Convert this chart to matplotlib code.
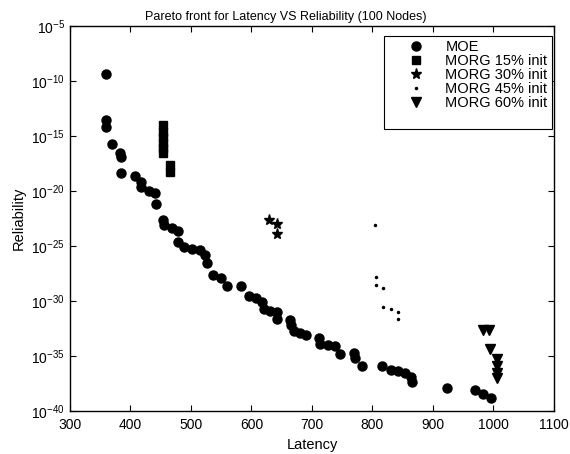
import matplotlib
matplotlib.use("Agg")
import matplotlib.pyplot as plt
import numpy as np

plt.rcParams['font.family'] = ['Liberation Sans', 'DejaVu Sans']
plt.rcParams['font.size'] = 10

# data (reliability given as log10 exponent)
moe_lat = [359, 359, 359, 370, 382, 384, 384, 408, 418, 418, 431, 441, 443, 453,
           455, 469, 479, 479, 489, 502, 515, 524, 527, 536, 550, 560, 583, 596,
           608, 618, 620, 631, 642, 642, 664, 666, 671, 680, 690, 711, 713, 727,
           738, 747, 770, 771, 783, 816, 830, 842, 853, 864, 866, 923, 970, 983, 996]
moe_exp = [-9.4, -13.5, -14.2, -15.7, -16.5, -16.9, -18.4, -18.6, -19.2, -19.6,
           -20.0, -20.2, -21.2, -22.6, -23.1, -23.4, -23.6, -24.6, -25.1, -25.3,
           -25.4, -25.8, -26.5, -27.6, -27.9, -28.6, -28.6, -29.5, -29.7, -30.1,
           -30.7, -30.9, -31.0, -31.6, -31.7, -32.2, -32.7, -32.9, -33.1, -33.4,
           -33.9, -34.0, -34.05, -34.8, -34.7, -35.2, -35.9, -35.95, -36.25, -36.4,
           -36.55, -36.9, -37.4, -37.9, -38.1, -38.45, -38.8]

m15_lat = [454, 454, 454, 454, 454, 454, 466, 466]
m15_exp = [-14.0, -14.65, -15.1, -15.6, -16.1, -16.55, -17.65, -18.25]

m30_lat = [629, 642, 642]
m30_exp = [-22.6, -23.0, -23.9]

m45_lat = [805, 806, 806, 818, 818, 830, 842, 842]
m45_exp = [-23.05, -27.85, -28.5, -28.8, -30.55, -30.75, -30.97, -31.6]

m60_lat = [983, 993, 994, 1006, 1006, 1006, 1006]
m60_exp = [-32.6, -32.6, -34.4, -35.3, -35.9, -36.5, -37.0]

fig = plt.figure(figsize=(5.7, 4.54), dpi=100)
ax = fig.add_axes([0.1228, 0.0947, 0.849, 0.848])

ax.semilogy(moe_lat, np.power(10.0, moe_exp), 'ko', ms=6.5, mec='k', label='MOE')
ax.semilogy(m15_lat, np.power(10.0, m15_exp), 'ks', ms=6, mec='k', label='MORG 15% init')
ax.semilogy(m30_lat, np.power(10.0, m30_exp), 'k*', ms=8, mec='k', label='MORG 30% init')
ax.semilogy(m45_lat, np.power(10.0, m45_exp), 'k.', ms=3, mec='k', label='MORG 45% init')
ax.semilogy(m60_lat, np.power(10.0, m60_exp), 'kv', ms=7, mec='k', label='MORG 60% init')
# blank row: the original legend box has extra room below the last entry
ax.plot([], [], ' ', label=' ')

ax.set_xlim(300, 1100)
ax.set_ylim(1e-40, 1e-5)
ax.set_xticks(np.arange(300, 1101, 100))
ax.set_yticks([10.0 ** e for e in range(-40, -4, 5)])
ax.yaxis.set_minor_locator(matplotlib.ticker.NullLocator())
ax.tick_params(direction='in', top=True, right=True, length=4, width=0.8)
ax.tick_params(axis='x', pad=5)
for s in ax.spines.values():
    s.set_linewidth(1.0)

ax.set_title("Pareto front for Latency VS Reliability (100 Nodes)", fontsize=9,
             x=0.445, pad=4)
ax.set_xlabel("Latency", fontsize=10.5)
ax.set_ylabel("Reliability", fontsize=10.5)

leg = ax.legend(loc='upper right', bbox_to_anchor=(0.996, 0.974), fancybox=False,
                framealpha=1, edgecolor='k', borderaxespad=0, fontsize=10.5,
                borderpad=0.3, handlelength=3.8, handletextpad=0.15,
                labelspacing=0)
leg.get_frame().set_linewidth(0.8)

fig.savefig("out.png", dpi=100)
